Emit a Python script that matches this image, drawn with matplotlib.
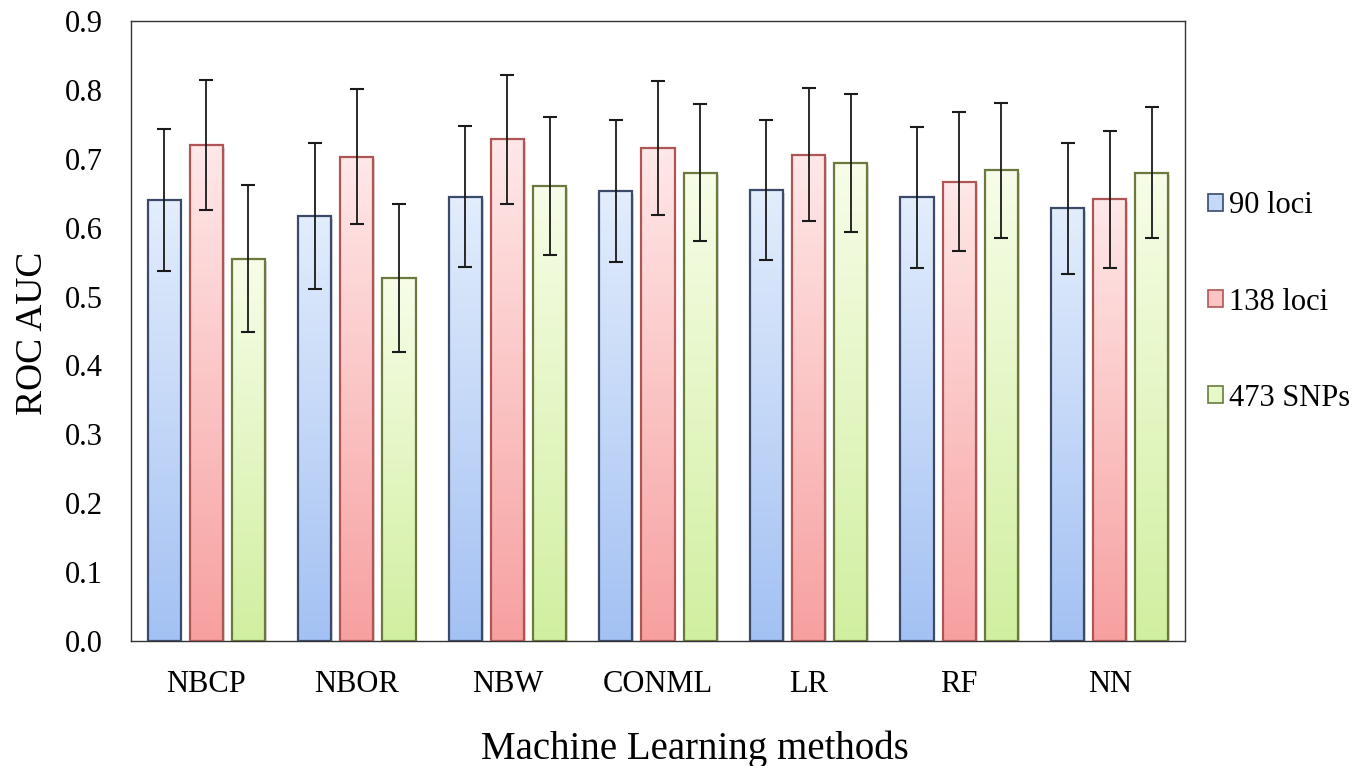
import numpy as np
import matplotlib
matplotlib.use("Agg")
import matplotlib.pyplot as plt
from matplotlib.colors import LinearSegmentedColormap
from matplotlib.patches import Patch

methods = ["NBCP", "NBOR", "NBW", "CONML", "LR", "RF", "NN"]
series = ["90 loci", "138 loci", "473 SNPs"]
auc_90 = [0.640, 0.617, 0.645, 0.653, 0.655, 0.644, 0.628]
auc_138 = [0.720, 0.703, 0.728, 0.716, 0.706, 0.667, 0.641]
auc_473 = [0.555, 0.527, 0.661, 0.680, 0.694, 0.683, 0.680]
err_90 = [0.103, 0.106, 0.102, 0.103, 0.102, 0.102, 0.095]
err_138 = [0.095, 0.098, 0.094, 0.097, 0.097, 0.101, 0.100]
err_473 = [0.107, 0.108, 0.100, 0.100, 0.100, 0.098, 0.095]
yticks = [0.0, 0.1, 0.2, 0.3, 0.4, 0.5, 0.6, 0.7, 0.8, 0.9]

plt.rcParams['font.family'] = ['Liberation Serif', 'DejaVu Serif']

top_cols = ["#e3edfc", "#ffe8e8", "#f7fde8"]
bot_cols = ["#a3c1f3", "#f7a0a0", "#d1efa0"]
edge_cols = ["#3b4a68", "#b05555", "#6b7a3c"]
leg_face = ["#c4d8f8", "#fbc4c4", "#e6f7c8"]

W, H = 1370, 766
fig = plt.figure(figsize=(W / 100, H / 100), dpi=100)
ax = fig.add_axes([131/W, 1-641/H, (1185-131)/W, (641-21)/H])

x = np.arange(len(methods))
offsets = [-0.28, 0.0, 0.28]
width = 0.22
vals = [auc_90, auc_138, auc_473]
errs = [err_90, err_138, err_473]

grad = np.linspace(0, 1, 256).reshape(-1, 1)
for i in range(3):
    cmap = LinearSegmentedColormap.from_list("g%d" % i, [bot_cols[i], top_cols[i]])
    bars = ax.bar(x + offsets[i], vals[i], width, facecolor="none",
                  edgecolor=edge_cols[i], linewidth=1.6, zorder=3)
    for b in bars:
        x0, y0 = b.get_x(), b.get_y()
        w, h = b.get_width(), b.get_height()
        ax.add_patch(plt.Rectangle((x0 + 0.012, y0), w, h - 0.004, facecolor="#d8d8d8",
                                   edgecolor="none", zorder=1))
        im = ax.imshow(grad, extent=(x0, x0 + w, y0, y0 + h), origin="lower",
                       cmap=cmap, aspect="auto", zorder=2)
        im.set_clip_path(b)
    ax.errorbar(x + offsets[i], vals[i], yerr=errs[i], fmt="none", ecolor="#1a1a1a",
                elinewidth=1.3, capsize=5, capthick=1.5, zorder=4)

ax.set_xlim(-0.5, len(methods) - 0.5)
ax.set_ylim(0, 0.9)
ax.set_yticks(yticks)
ax.set_yticklabels(["%.1f" % t for t in yticks], fontsize=22)
ax.set_xticks(x)
ax.set_xticklabels(methods, fontsize=22)
ax.tick_params(axis="both", length=0)
ax.tick_params(axis="x", pad=21)
ax.tick_params(axis="y", pad=20)
for s in ax.spines.values():
    s.set_color("#333333")
    s.set_linewidth(1.0)

ax.set_ylabel("ROC AUC", fontsize=27)
ax.yaxis.set_label_coords(50 / W, 1 - 333 / H, transform=fig.transFigure)
ax.set_xlabel("Machine Learning methods", fontsize=28)
ax.xaxis.set_label_coords(695 / W, 1 - 731 / H, transform=fig.transFigure)

handles = [Patch(facecolor=leg_face[i], edgecolor=edge_cols[i], linewidth=1.2) for i in range(3)]
fig.legend(handles, series, loc="center left", bbox_to_anchor=(1196 / W, 1 - 302 / H),
           frameon=False, fontsize=22, handlelength=0.49, handleheight=0.49,
           handletextpad=0.2, labelspacing=2.2, borderaxespad=0)

fig.savefig("out.png", dpi=100)
